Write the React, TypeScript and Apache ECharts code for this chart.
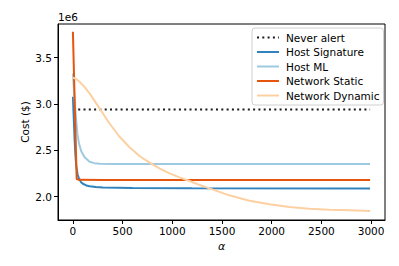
import React, { useEffect, useRef } from "react";
import * as echarts from "echarts";

const xTicks = [0, 500, 1000, 1500, 2000, 2500, 3000];
const yTicks = [2.0, 2.5, 3.0, 3.5];

const neverAlertX = [0, 2990];
const neverAlertY = [2.942, 2.942];

const hostSigX = [0, 8, 17, 25, 34, 47, 60, 80, 100, 135, 168, 230, 302, 600, 1200, 2990];
const hostSigY = [3.078, 2.86, 2.62, 2.45, 2.33, 2.24, 2.2, 2.16, 2.14, 2.122, 2.113, 2.105, 2.1, 2.095, 2.091, 2.088];

const hostMLX = [0, 10, 20, 32, 45, 60, 84, 118, 168, 215, 268, 400, 1000, 2990];
const hostMLY = [3.33, 3.16, 3.0, 2.84, 2.68, 2.58, 2.49, 2.425, 2.377, 2.362, 2.356, 2.353, 2.352, 2.352];

const netStaticX = [0, 38, 60, 300, 2990];
const netStaticY = [3.78, 2.19, 2.182, 2.18, 2.18];

const netDynX = [0, 30, 67, 120, 168, 268, 369, 469, 570, 670, 771, 871, 972, 1072, 1173, 1256, 1374, 1573, 1776, 1977, 2178, 2379, 2580, 2781, 2990];
const netDynY = [3.285, 3.272, 3.24, 3.18, 3.115, 2.953, 2.79, 2.647, 2.533, 2.439, 2.367, 2.306, 2.252, 2.209, 2.17, 2.135, 2.09, 2.015, 1.957, 1.918, 1.889, 1.871, 1.86, 1.853, 1.846];

const seriesNames = ["Never alert", "Host Signature", "Host ML", "Network Static", "Network Dynamic"];
const seriesColors = ["#1a1a1a", "#3182bd", "#9ecae1", "#e6550d", "#fdd0a2"];

const zip = (xs: number[], ys: number[]) => xs.map((x, i) => [x, ys[i]]);

export default function App() {
  const ref = useRef<HTMLDivElement>(null);
  useEffect(() => {
    if (!ref.current) return;
    const chart = echarts.init(ref.current, null, { renderer: "svg" });
    const font = "DejaVu Sans";
    const datasets = [
      zip(neverAlertX, neverAlertY),
      zip(hostSigX, hostSigY),
      zip(hostMLX, hostMLY),
      zip(netStaticX, netStaticY),
      zip(netDynX, netDynY),
    ];
    chart.setOption({
      animation: false,
      textStyle: { fontFamily: font },
      grid: {
        left: 58,
        right: 14,
        top: 24,
        bottom: 46,
        show: true,
        borderColor: "#000",
        borderWidth: 1,
        backgroundColor: "transparent",
      },
      graphic: [
        {
          type: "text",
          left: 58,
          top: 11,
          style: { text: "1e6", fontSize: 10.5, fontFamily: font, fill: "#000" },
        },
      ],
      legend: {
        orient: "vertical",
        left: 252,
        top: 28,
        padding: [4, 4, 4, 4],
        itemGap: 3.5,
        itemWidth: 22,
        itemHeight: 11,
        backgroundColor: "#fff",
        borderColor: "#d0d0d0",
        borderWidth: 1,
        borderRadius: 3,
        itemStyle: { opacity: 0 },
        textStyle: { fontSize: 10.5, lineHeight: 11, fontFamily: font, color: "#000", padding: [0, 0, 0, 2] },
        data: seriesNames,
      },
      xAxis: {
        type: "value",
        min: -150,
        max: 3140,
        name: "α",
        nameLocation: "middle",
        nameGap: 21,
        nameMoveOverlap: false,
        nameTextStyle: { fontSize: 11, fontStyle: "italic", fontFamily: font, color: "#000" },
        axisLine: { show: true, onZero: false, lineStyle: { color: "#000", width: 1 } },
        axisTick: { show: true, length: 4, customValues: xTicks, lineStyle: { color: "#000" } },
        axisLabel: {
          fontSize: 10.5,
          color: "#000",
          margin: 5,
          customValues: xTicks,
          fontFamily: font,
          formatter: (v: number) => String(v),
        },
        splitLine: { show: false },
      },
      yAxis: {
        type: "value",
        min: 1.749,
        max: 3.863,
        name: "Cost ($)",
        nameLocation: "middle",
        nameGap: 28,
        nameRotate: 90,
        nameMoveOverlap: false,
        nameTextStyle: { fontSize: 10.5, fontFamily: font, color: "#000" },
        axisLine: { show: true, onZero: false, lineStyle: { color: "#000", width: 1 } },
        axisTick: { show: true, length: 4, customValues: yTicks, lineStyle: { color: "#000" } },
        axisLabel: {
          fontSize: 10.5,
          color: "#000",
          margin: 6,
          customValues: yTicks,
          fontFamily: font,
          formatter: (v: number) => v.toFixed(1),
        },
        splitLine: { show: false },
      },
      series: seriesNames.map((name, i) => ({
        name,
        type: "line",
        data: datasets[i],
        symbol: "none",
        smooth: false,
        z: i === 0 ? 1 : 2 + i,
        lineStyle: {
          color: seriesColors[i],
          width: 2,
          type: i === 0 ? [2, 3.3] : "solid",
        },
        itemStyle: { color: seriesColors[i] },
      })),
    });
    return () => chart.dispose();
  }, []);
  return (
    <div
      ref={ref}
      style={{ position: "fixed", left: 0, top: 0, width: 399, height: 266, background: "#fff" }}
    />
  );
}
